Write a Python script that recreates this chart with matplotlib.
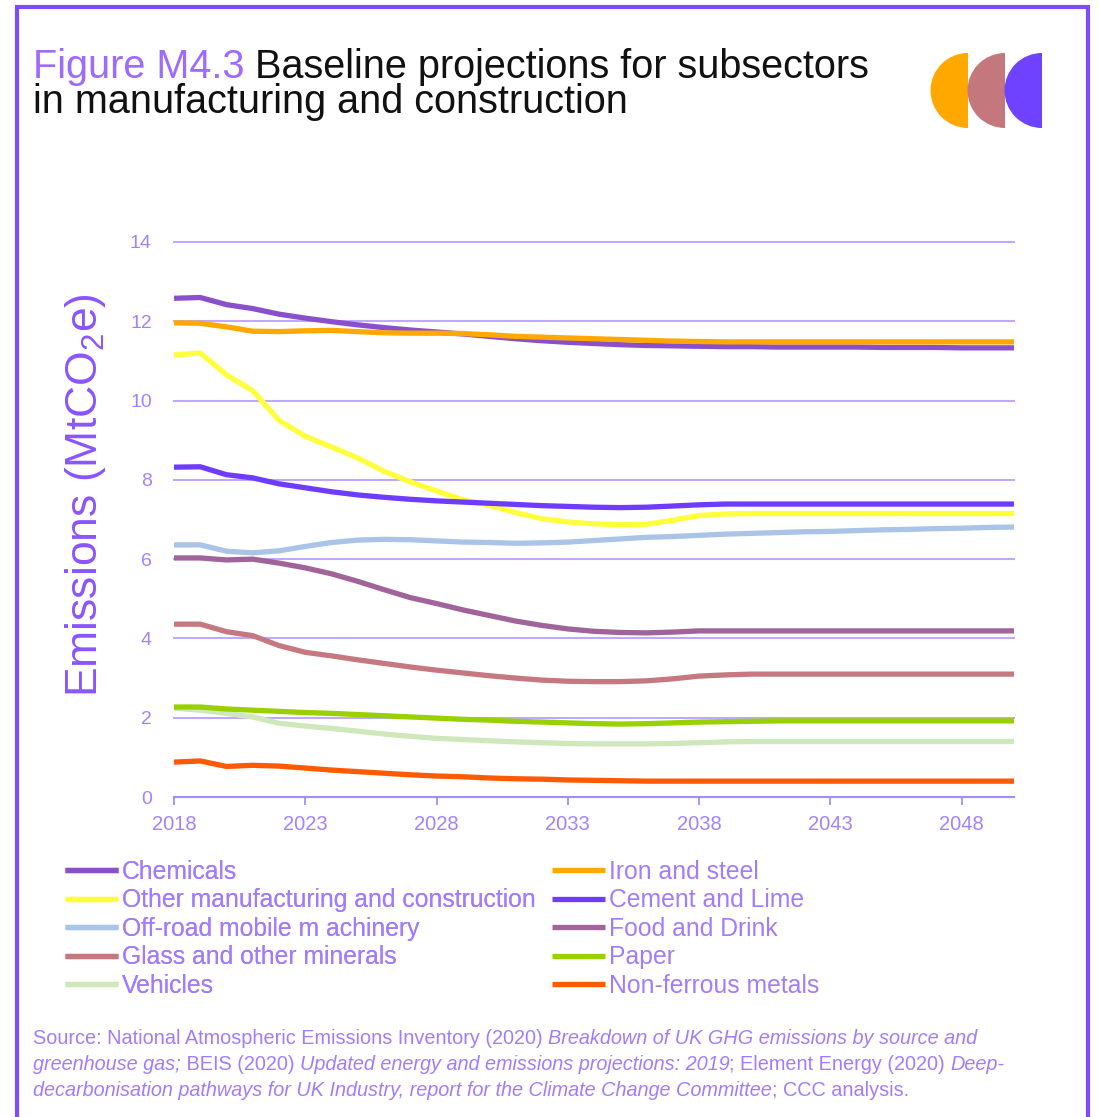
import matplotlib
matplotlib.use("Agg")
import matplotlib.pyplot as plt
from matplotlib.patches import Wedge, Rectangle

# baseline emissions by subsector, MtCO2e, one value per year 2018-2050
years = list(range(2018, 2051))

chemicals = [12.58, 12.60, 12.42, 12.32, 12.18, 12.08, 11.99, 11.91, 11.84, 11.78,
             11.73, 11.68, 11.62, 11.56, 11.51, 11.47, 11.44, 11.41, 11.39, 11.38,
             11.37, 11.36, 11.36, 11.35, 11.35, 11.35, 11.35, 11.34, 11.34, 11.34,
             11.33, 11.33, 11.33]
iron_steel = [11.96, 11.95, 11.86, 11.75, 11.74, 11.76, 11.77, 11.74, 11.71, 11.70,
              11.70, 11.69, 11.66, 11.62, 11.60, 11.58, 11.56, 11.54, 11.52, 11.50,
              11.49, 11.48, 11.48, 11.48, 11.48, 11.48, 11.48, 11.48, 11.48, 11.48,
              11.48, 11.48, 11.48]
other_manuf = [11.15, 11.20, 10.65, 10.25, 9.50, 9.10, 8.83, 8.55, 8.22, 7.95,
               7.72, 7.50, 7.36, 7.18, 7.02, 6.94, 6.89, 6.87, 6.88, 6.98,
               7.10, 7.14, 7.15, 7.15, 7.15, 7.15, 7.15, 7.15, 7.15, 7.15,
               7.15, 7.15, 7.15]
cement_lime = [8.32, 8.33, 8.13, 8.05, 7.90, 7.80, 7.70, 7.62, 7.56, 7.51,
               7.47, 7.44, 7.41, 7.38, 7.35, 7.33, 7.31, 7.30, 7.31, 7.34,
               7.37, 7.39, 7.39, 7.39, 7.39, 7.39, 7.39, 7.39, 7.39, 7.39,
               7.39, 7.39, 7.39]
off_road = [6.36, 6.36, 6.20, 6.16, 6.21, 6.32, 6.42, 6.48, 6.50, 6.49,
            6.46, 6.43, 6.42, 6.40, 6.41, 6.43, 6.47, 6.51, 6.55, 6.57,
            6.60, 6.63, 6.65, 6.67, 6.69, 6.70, 6.72, 6.74, 6.75, 6.77,
            6.78, 6.80, 6.81]
food_drink = [6.03, 6.03, 5.98, 6.00, 5.90, 5.78, 5.63, 5.44, 5.23, 5.03,
              4.88, 4.72, 4.58, 4.44, 4.33, 4.24, 4.18, 4.15, 4.14, 4.16,
              4.19, 4.19, 4.19, 4.19, 4.19, 4.19, 4.19, 4.19, 4.19, 4.19,
              4.19, 4.19, 4.19]
glass = [4.36, 4.36, 4.17, 4.07, 3.82, 3.65, 3.56, 3.46, 3.37, 3.28,
         3.20, 3.13, 3.06, 3.00, 2.95, 2.92, 2.91, 2.91, 2.93, 2.98,
         3.05, 3.08, 3.10, 3.10, 3.10, 3.10, 3.10, 3.10, 3.10, 3.10,
         3.10, 3.10, 3.10]
paper = [2.27, 2.27, 2.22, 2.19, 2.16, 2.13, 2.11, 2.08, 2.05, 2.02,
         1.99, 1.96, 1.94, 1.91, 1.89, 1.87, 1.85, 1.84, 1.85, 1.87,
         1.89, 1.90, 1.91, 1.92, 1.92, 1.92, 1.92, 1.92, 1.92, 1.92,
         1.92, 1.92, 1.92]
vehicles = [2.24, 2.19, 2.11, 2.02, 1.86, 1.79, 1.73, 1.66, 1.59, 1.53,
            1.48, 1.45, 1.42, 1.39, 1.37, 1.35, 1.34, 1.34, 1.34, 1.35,
            1.37, 1.39, 1.40, 1.40, 1.40, 1.40, 1.40, 1.40, 1.40, 1.40,
            1.40, 1.40, 1.40]
non_ferrous = [0.88, 0.91, 0.77, 0.80, 0.78, 0.73, 0.68, 0.64, 0.60, 0.56,
               0.53, 0.51, 0.48, 0.46, 0.45, 0.43, 0.42, 0.41, 0.40, 0.40,
               0.40, 0.40, 0.40, 0.40, 0.40, 0.40, 0.40, 0.40, 0.40, 0.40,
               0.40, 0.40, 0.40]

series = [
    ("Chemicals", chemicals, "#8a50cc"),
    ("Iron and steel", iron_steel, "#ffa800"),
    ("Other manufacturing and construction", other_manuf, "#ffff3c"),
    ("Cement and Lime", cement_lime, "#6e3cff"),
    ("Off-road mobile m achinery", off_road, "#aac4e8"),
    ("Food and Drink", food_drink, "#a0649a"),
    ("Glass and other minerals", glass, "#c67880"),
    ("Vehicles", vehicles, "#cfe8bb"),
    ("Paper", paper, "#99d100"),
    ("Non-ferrous metals", non_ferrous, "#ff5a00"),
]
left_col = ["Chemicals", "Other manufacturing and construction",
            "Off-road mobile m achinery", "Glass and other minerals", "Vehicles"]
right_col = ["Iron and steel", "Cement and Lime", "Food and Drink",
             "Paper", "Non-ferrous metals"]

xticks = [2018, 2023, 2028, 2033, 2038, 2043, 2048]
yticks = [0, 2, 4, 6, 8, 10, 12, 14]

plt.rcParams["font.family"] = ["Liberation Sans", "DejaVu Sans"]
plt.rcParams["mathtext.default"] = "regular"

W, H = 1099, 1117
fig = plt.figure(figsize=(W / 100, H / 100), dpi=100)
fig.patch.set_facecolor("white")

violet = "#7c4dff"
tick_c = "#a283ff"
grid_c = "#bea9ff"
text_c = "#a27cff"

ax = fig.add_axes([174 / W, (H - 797) / H, (1014 - 174) / W, 555 / H])
lines = {}
for name, vals, col in series:
    ln, = ax.plot(years, vals, color=col, lw=3.8, solid_capstyle="butt", label=name)
    lines[name] = ln

ax.set_xlim(2018, 2050)
ax.set_ylim(0, 14)
ax.set_xticks(xticks)
ax.set_yticks(yticks)
ax.yaxis.grid(True, color=grid_c, lw=1.5)
ax.set_axisbelow(True)
for gl in ax.get_ygridlines():
    gl.set_clip_on(False)
for s in ["left", "right", "top"]:
    ax.spines[s].set_visible(False)
ax.spines["bottom"].set_color("#a68bff")
ax.spines["bottom"].set_linewidth(1.5)
ax.tick_params(axis="x", direction="out", length=6, width=1.3, color="#a68bff",
               labelcolor=tick_c, labelsize=14.5, pad=7)
ax.tick_params(axis="y", length=0, labelcolor=tick_c, labelsize=14, pad=16)

fig.text(86 / W, 1 - 495 / H, r"Emissions (MtCO$_2$e)", rotation=90,
         ha="center", va="center", fontsize=32, color="#8a55ff")

# legend in two columns
leg_kw = dict(loc="upper left", frameon=False, fontsize=17.8, labelcolor=text_c,
              handlelength=2.15, handletextpad=0.15, labelspacing=0.18,
              borderpad=0, borderaxespad=0)
leg1 = fig.legend(handles=[lines[n] for n in left_col],
                  bbox_to_anchor=(65 / W, 1 - 860 / H), **leg_kw)
fig.legend(handles=[lines[n] for n in right_col],
           bbox_to_anchor=(552 / W, 1 - 860 / H), **leg_kw)
fig.add_artist(leg1)


def text_runs(x, y, runs, size, **kw):
    # write pieces of one line one after another, each with its own style
    first, style, col = runs[0]
    t = fig.text(x / W, 1 - y / H, first, fontsize=size, style=style,
                 color=col, va="baseline", **kw)
    for s, style, col in runs[1:]:
        t = ax.annotate(s, xy=(1, 0), xycoords=t, va="bottom", ha="left",
                        fontsize=size, style=style, color=col,
                        annotation_clip=False, **kw)
    return t


text_runs(33, 78, [("Figure M4.3", "normal", "#9d6bff"),
                   (" Baseline projections for subsectors", "normal", "#111111")], 28.5)
text_runs(33, 113, [("in manufacturing and construction", "normal", "#111111")], 28.5)

src = 14.3
text_runs(33, 1044, [
    ("Source: National Atmospheric Emissions Inventory (2020) ", "normal", text_c),
    ("Breakdown of UK GHG emissions by source and", "italic", text_c)], src)
text_runs(33, 1070, [
    ("greenhouse gas;", "italic", text_c),
    (" BEIS (2020) ", "normal", text_c),
    ("Updated energy and emissions projections: 2019", "italic", text_c),
    ("; Element Energy (2020) ", "normal", text_c),
    ("Deep-", "italic", text_c)], src)
text_runs(33, 1096, [
    ("decarbonisation pathways for UK Industry, report for the Climate Change Committee",
     "italic", text_c),
    ("; CCC analysis.", "normal", text_c)], src)

# logo: three left half-discs
lax = fig.add_axes([920 / W, 1 - 140 / H, 130 / W, 100 / H])
lax.set_xlim(920, 1050)
lax.set_ylim(140, 40)
lax.axis("off")
for cx, col in [(968, "#ffa800"), (1005, "#c4777d"), (1042, "#6e42ff")]:
    lax.add_patch(Wedge((cx, 90.5), 37.5, 90, 270, color=col, lw=0))

# outer frame, open at the bottom edge of the page
fig.add_artist(Rectangle((17 / W, -0.05), (1088 - 17) / W, (H - 7) / H + 0.05,
                         transform=fig.transFigure, fill=False, ec=violet, lw=3))

fig.savefig("out.png", dpi=100)
